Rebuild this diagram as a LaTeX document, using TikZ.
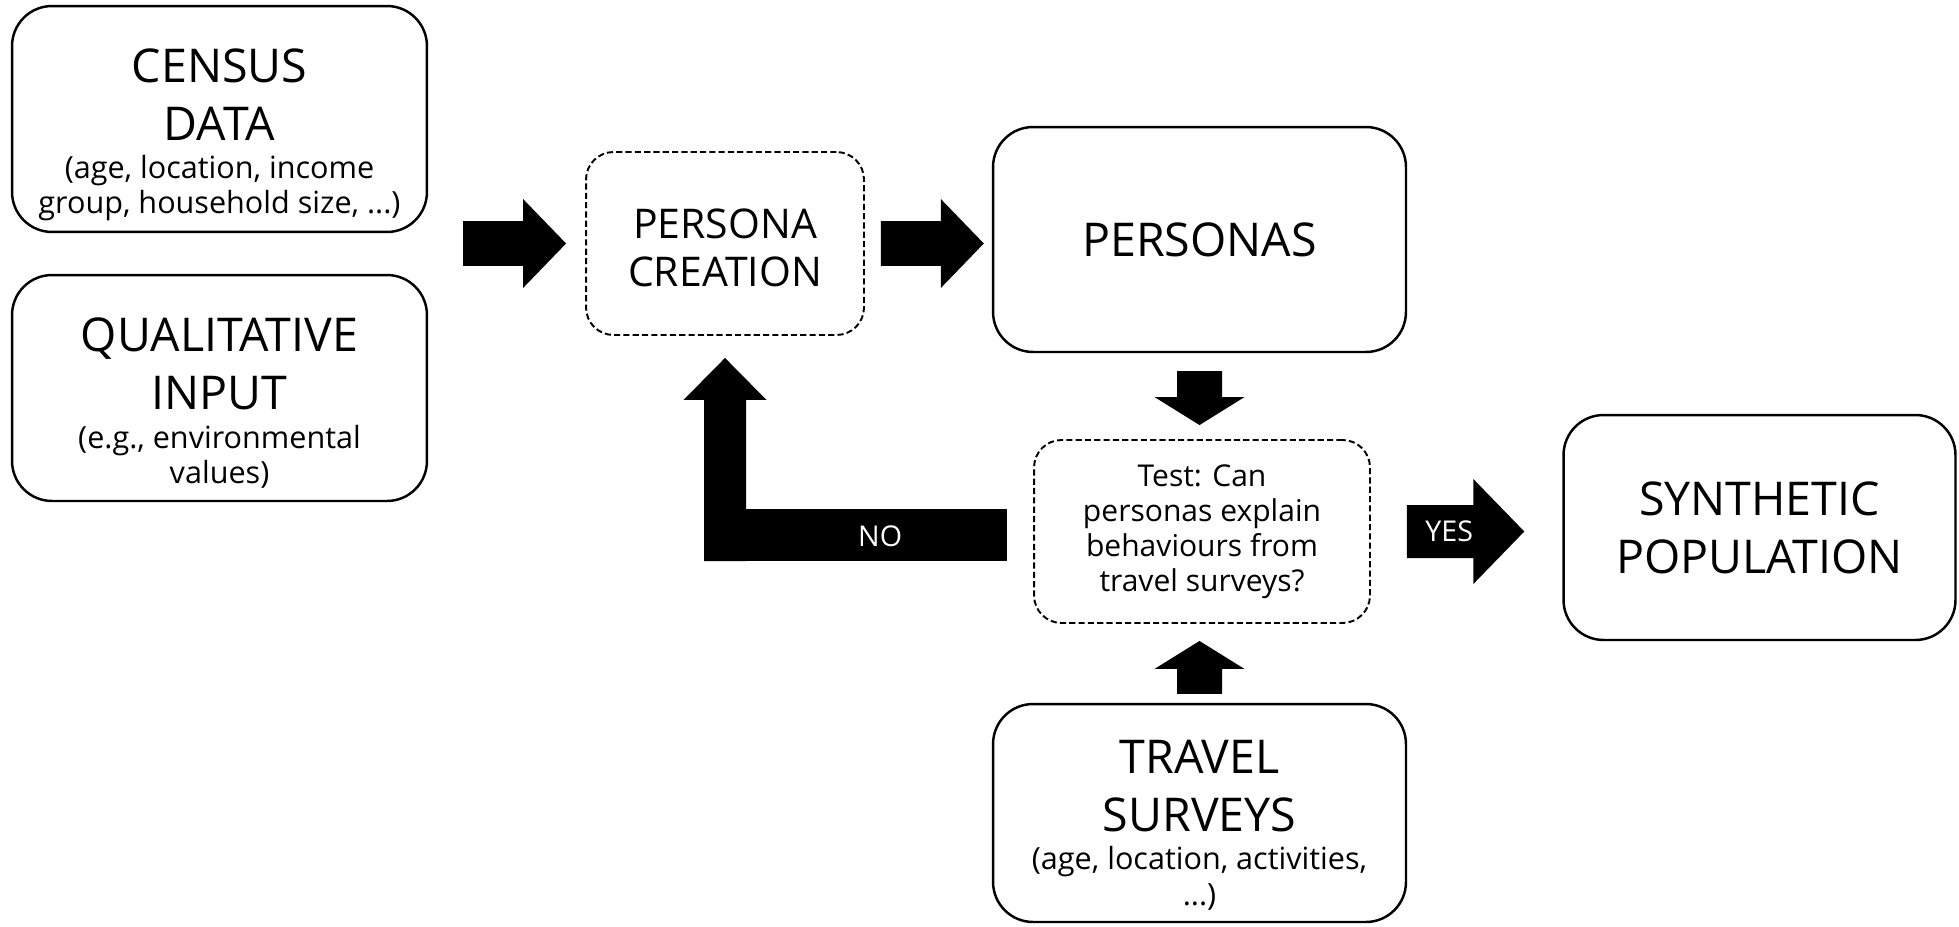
\documentclass[tikz,border=0pt]{standalone}
\usepackage{fontspec}
\setmainfont{Open Sans}
\usetikzlibrary{calc}

\tikzset{
  databox/.style={draw, line width=1.4pt, rounded corners=0.8cm, inner sep=0pt,
    align=center, font=\headsize},
  stepbox/.style={draw, line width=1.1pt, dash pattern=on 3.5pt off 1.8pt,
    rounded corners=0.55cm, inner sep=0pt, align=center},
  flowlabel/.style={text=white, font=\tagsize, inner sep=0pt}
}

\begin{document}
\begin{tikzpicture}[x=0.02cm, y=-0.02cm]
  % Font sizes
  \def\headsize{\fontsize{26.5}{33}\selectfont}
  \def\notesize{\fontsize{17.4}{20}\selectfont}
  \def\stepsize{\fontsize{23.3}{27}\selectfont}
  \def\asksize{\fontsize{17.1}{20}\selectfont}
  \def\tagsize{\fontsize{16.3}{19}\selectfont}
  % pushes the first line down by #1
  \def\padtop#1{\rule{0pt}{\dimexpr\fontcharht\font`C+#1\relax}}

  % start, end, shaft half width, head half width, head length
  \def\blockarrow#1#2#3#4#5{%
    \coordinate (headbase) at ($(#2)!#5!(#1)$);
    \fill ($(#1)!#3!90:(#2)$) -- ($(headbase)!#3!90:(#2)$) -- ($(headbase)!#4!90:(#2)$)
      -- (#2) -- ($(headbase)!#4!-90:(#2)$) -- ($(headbase)!#3!-90:(#2)$)
      -- ($(#1)!#3!-90:(#2)$) -- cycle;
  }

  \useasboundingbox (0,0) rectangle (1959,926);

  % Input boxes
  \node[databox, minimum width=8.3cm, minimum height=4.52cm] (census) at (219.5,119)
    {\padtop{0.64cm}CENSUS\\DATA\\[-11pt]\notesize(age, location, income\\[-13pt]\notesize group, household size, ...)};
  \node[databox, minimum width=8.3cm, minimum height=4.52cm] (qual) at (219.5,388)
    {\padtop{0.62cm}QUALITATIVE\\INPUT\\[-11pt]\notesize(e.g., environmental\\[-13pt]\notesize values)};

  % Process steps
  \node[stepbox, minimum width=5.56cm, minimum height=3.66cm, font=\stepsize] (create) at (725,243.5)
    {\padtop{0.18cm}PERSONA\\CREATION};
  \node[stepbox, minimum width=6.72cm, minimum height=3.66cm, font=\asksize] (test) at (1202,531.5)
    {Test: Can\\personas explain\\behaviours from\\travel surveys?};

  % Results and survey data
  \node[databox, minimum width=8.26cm, minimum height=4.5cm] (personas) at (1199.5,239.5) {PERSONAS};
  \node[databox, minimum width=7.84cm, minimum height=4.5cm] (synth) at (1759.5,527.5) {SYNTHETIC\\POPULATION};
  \node[databox, minimum width=8.26cm, minimum height=4.36cm] (travel) at (1199.5,813)
    {\padtop{0.48cm}TRAVEL\\SURVEYS\\[-11pt]\notesize(age, location, activities,\\[-13pt]\notesize ...)};

  % Block arrows
  \coordinate (in1) at ($(census.east |- create.west)+(35,0)$);
  \coordinate (in2) at ($(create.west)+(-19,0)$);
  \blockarrow{in1}{in2}{0.45cm}{0.89cm}{0.86cm}
  \coordinate (out1) at ($(create.east)+(16,0)$);
  \coordinate (out2) at ($(create.east -| personas.west)+(-8,0)$);
  \blockarrow{out1}{out2}{0.45cm}{0.89cm}{0.86cm}
  \coordinate (down1) at ($(personas.south)+(0,18)$);
  \coordinate (down2) at ($(personas.south |- test.north)+(0,-14)$);
  \blockarrow{down1}{down2}{0.45cm}{0.9cm}{0.56cm}
  \coordinate (up1) at ($(travel.north)+(0,-9)$);
  \coordinate (up2) at ($(travel.north |- test.south)+(0,17)$);
  \blockarrow{up1}{up2}{0.45cm}{0.9cm}{0.56cm}
  \coordinate (yes1) at ($(test.east)+(36,0)$);
  \coordinate (yes2) at ($(test.east -| synth.west)+(-38,0)$);
  \blockarrow{yes1}{yes2}{0.53cm}{1.05cm}{1.02cm}

  % Loop back when the test fails
  \coordinate (notip) at ($(create.south)+(0,22)$);
  \coordinate (noend) at ($(test.west)+(-26,4.5)$);
  \coordinate (noturn) at (notip |- noend);
  \coordinate (noturnlow) at ($(noturn)+(0,25)$);
  \fill ($(noend)+(0,-27)$) rectangle ($(noturnlow)+(-21,0)$);
  \blockarrow{noturnlow}{notip}{0.42cm}{0.83cm}{0.84cm}

  \node[flowlabel] (nolabel) at ($(noturn)!0.55!(noend)$) {NO};
  \node[flowlabel] (yeslabel) at ($(yes1)!0.36!(yes2)$) {YES};
\end{tikzpicture}
\end{document}
